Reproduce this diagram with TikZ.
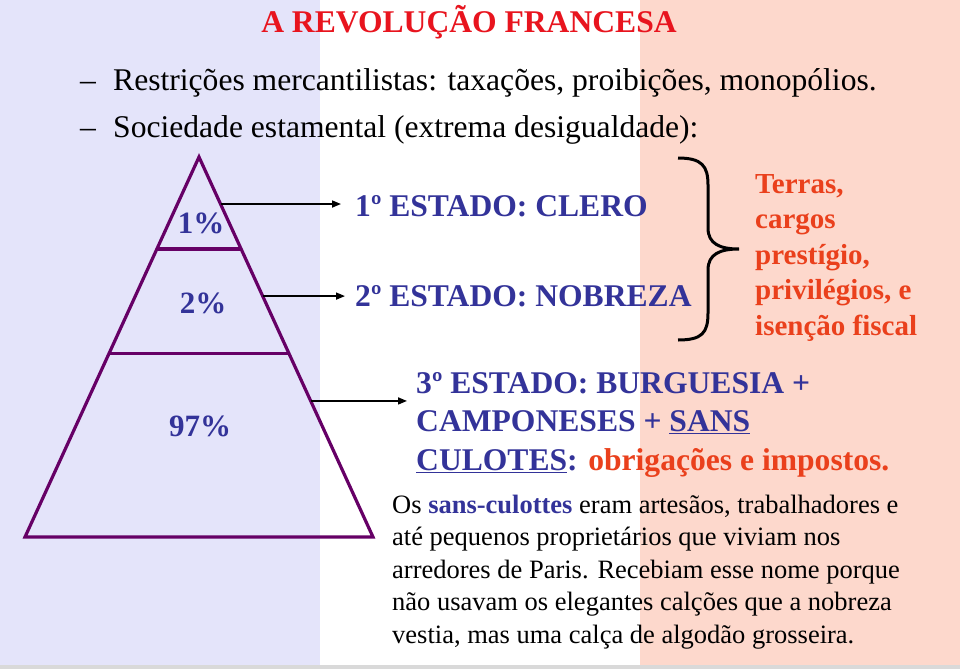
\documentclass[tikz,border=0pt]{standalone}
\usepackage{fontspec}
\setmainfont{LiberationSerif-Regular.ttf}[BoldFont=LiberationSerif-Bold.ttf]
\usetikzlibrary{arrows.meta,calc}
\definecolor{bgblue}{RGB}{228,228,250}
\definecolor{bgsalmon}{RGB}{253,216,204}
\definecolor{pyrcol}{RGB}{102,0,102}
\definecolor{navy}{RGB}{51,51,153}
\definecolor{titred}{RGB}{232,20,30}
\definecolor{orred}{RGB}{234,64,28}

\begin{document}
\begin{tikzpicture}[x=1pt,y=-1pt,
  body/.style={inner sep=0pt,anchor=base west,align=left,font=\fontsize{31.6}{38.5}\selectfont},
  hd/.style={inner sep=0pt,anchor=base west,align=left,font=\fontsize{31.6}{38.5}\selectfont\bfseries},
  pc/.style={inner sep=0pt,anchor=base,text=navy,font=\fontsize{31}{37}\selectfont\bfseries},
  pyr/.style={draw=pyrcol,line width=3.2pt},
  arr/.style={-{Triangle[length=9pt,width=7pt]},line width=1.6pt}]
  \useasboundingbox (0,0) rectangle (960,669);
  % tricolour background
  \fill[bgblue] (0,0) rectangle (320,669);
  \fill[white] (320,0) rectangle (640,669);
  \fill[bgsalmon] (640,0) rectangle (960,669);
  \fill[black!15] (0,665) rectangle (960,669);

  \node[hd,anchor=base,text=titred] (title) at (469,33) {A REVOLUÇÃO FRANCESA};
  \node[body] (b1) at (80,90) {\makebox[33pt][l]{–}Restrições mercantilistas: taxações, proibições, monopólios.};
  \node[body] (b2) at (80,137) {\makebox[33pt][l]{–}Sociedade estamental (extrema desigualdade):};

  % pyramid
  \coordinate (apex) at (199,157); \coordinate (bl) at (25,537); \coordinate (br) at (373,537);
  \draw[pyr] (apex) -- (br) -- (bl) -- cycle;
  \draw[pyr] ($(apex)!.242!(bl)$) -- ($(apex)!.242!(br)$);
  \draw[pyr] ($(apex)!.518!(bl)$) -- ($(apex)!.518!(br)$);
  \node[pc] (p1) at (201,233) {1\%};
  \node[pc] (p2) at (203,313) {2\%};
  \node[pc] (p3) at (200,436) {97\%};

  % estates (multi-line nodes: base = last line)
  \node[hd,text=navy] (clero) at (355,216) {1º ESTADO: CLERO};
  \node[hd,text=navy] (nobreza) at (355,306) {2º ESTADO: NOBREZA};
  \node[hd,text=navy] (terceiro) at (416,470) {3º ESTADO: BURGUESIA +\\CAMPONESES + \underline{SANS}\\\underline{CULOTES}: \textcolor{orred}{obrigações e impostos.}};
  \coordinate (e1) at ($(apex)!.1237!(br)$);
  \coordinate (e2) at ($(apex)!.366!(br)$);
  \coordinate (e3) at ($(apex)!.642!(br)$);
  \draw[arr,shorten >=14pt](e1)--(e1 -| clero.west);
  \draw[arr,shorten >=10pt](e2)--(e2 -| nobreza.west);
  \draw[arr,shorten >=9pt](e3)--(e3 -| terceiro.west);

  % brace and privileges
  \draw[line width=3pt] (678,158) .. controls (702,158) and (708,166) .. (708,185) -- (708,228)
    .. controls (708,244) and (720,249) .. (739,249) .. controls (720,249) and (708,254) .. (708,270)
    -- (708,313) .. controls (708,333) and (702,340) .. (678,340);
  \node[hd,text=orred,font=\fontsize{29}{35.5}\selectfont\bfseries] (priv) at (755,335)
    {Terras,\\cargos\\prestígio,\\privilégios, e\\isenção fiscal};

  \node[body,font=\fontsize{26.5}{32.5}\selectfont] (nota) at (392,643)
    {Os \textbf{\textcolor{navy}{sans-culottes}} eram artesãos, trabalhadores e\\até pequenos proprietários que viviam nos\\arredores de Paris. Recebiam esse nome porque\\não usavam os elegantes calções que a nobreza\\vestia, mas uma calça de algodão grosseira.};
\end{tikzpicture}
\end{document}
